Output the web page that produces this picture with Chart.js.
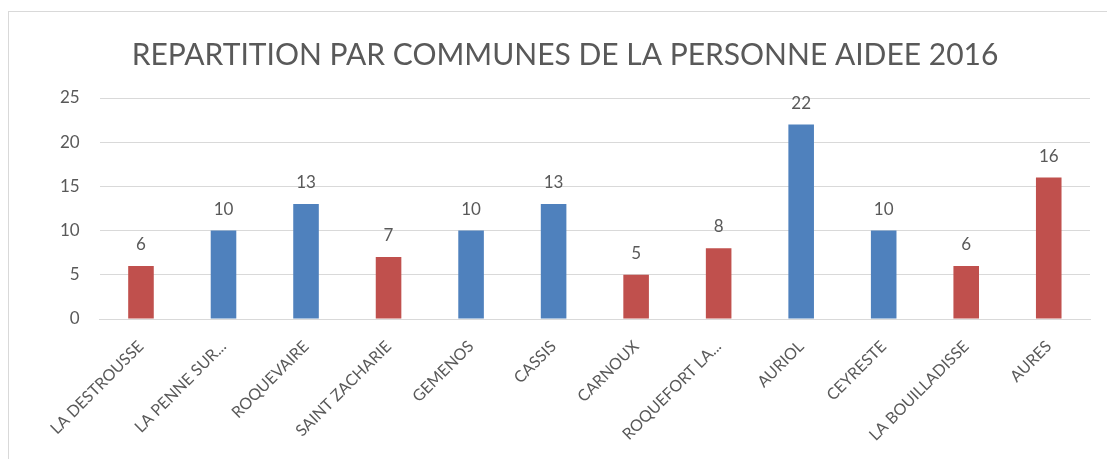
<!DOCTYPE html>
<html>
<head>
<meta charset="utf-8">
<script src="https://cdn.jsdelivr.net/npm/chart.js@4/dist/chart.umd.min.js"></script>
<style>
  html, body { margin: 0; padding: 0; background: #fff; }
  #wrap { position: relative; width: 1107px; height: 459px; overflow: hidden; }
  #frame { position: absolute; left: 8px; top: 11px; width: 1120px; height: 480px; border: 1px solid #d9d9d9; box-sizing: border-box; pointer-events: none; }
  canvas { position: absolute; left: 0; top: 0; }
</style>
</head>
<body>
<div id="wrap">
  <div id="frame"></div>
  <canvas id="c" width="1107" height="459"></canvas>
</div>
<script>
const categories = ["LA DESTROUSSE", "LA PENNE SUR...", "ROQUEVAIRE", "SAINT ZACHARIE", "GEMENOS", "CASSIS", "CARNOUX", "ROQUEFORT LA...", "AURIOL", "CEYRESTE", "LA BOUILLADISSE", "AURES"];
const values = [6, 10, 13, 7, 10, 13, 5, 8, 22, 10, 6, 16];
const barColors = ["#C0504D", "#4F81BD", "#4F81BD", "#C0504D", "#4F81BD", "#4F81BD", "#C0504D", "#C0504D", "#4F81BD", "#4F81BD", "#C0504D", "#C0504D"];
const yTicks = [0, 5, 10, 15, 20, 25];
const titleText = "REPARTITION PAR COMMUNES DE LA PERSONNE AIDEE 2016";

const FONT = "Lato, 'Open Sans', sans-serif";

const dataLabels = {
  id: 'dataLabels',
  afterDatasetsDraw(chart) {
    const ctx = chart.ctx;
    const meta = chart.getDatasetMeta(0);
    ctx.save();
    ctx.fillStyle = '#595959';
    ctx.font = '17px ' + FONT;
    ctx.textAlign = 'center';
    ctx.textBaseline = 'bottom';
    meta.data.forEach((bar, i) => {
      ctx.fillText(String(values[i]), bar.x, bar.y - 13);
    });
    ctx.restore();
  }
};

new Chart(document.getElementById('c'), {
  type: 'bar',
  data: {
    labels: categories,
    datasets: [{
      data: values,
      backgroundColor: barColors,
      borderWidth: 0,
      barPercentage: 0.62,
      categoryPercentage: 0.5
    }]
  },
  options: {
    responsive: false,
    animation: false,
    layout: { padding: { left: 40, right: 17, top: 37, bottom: 0 } },
    plugins: {
      legend: { display: false },
      tooltip: { enabled: false },
      title: {
        display: true,
        text: titleText,
        color: '#595959',
        font: { family: FONT, size: 30, weight: 'normal' },
        padding: { top: 0, bottom: 25 }
      }
    },
    scales: {
      x: {
        grid: { display: false, drawTicks: false },
        border: { color: '#d9d9d9', width: 1 },
        afterFit(axis) { axis.height = 140; },
        ticks: {
          color: '#595959',
          font: { family: FONT, size: 16 },
          maxRotation: 45,
          minRotation: 45,
          autoSkip: false,
          padding: 18
        }
      },
      y: {
        min: 0,
        max: 25,
        afterBuildTicks(axis) { axis.ticks = yTicks.map(v => ({ value: v })); },
        grid: { color: '#d9d9d9', drawTicks: false },
        border: { display: false },
        ticks: {
          color: '#595959',
          font: { family: FONT, size: 17 },
          padding: 20
        }
      }
    }
  },
  plugins: [dataLabels]
});
</script>
</body>
</html>
